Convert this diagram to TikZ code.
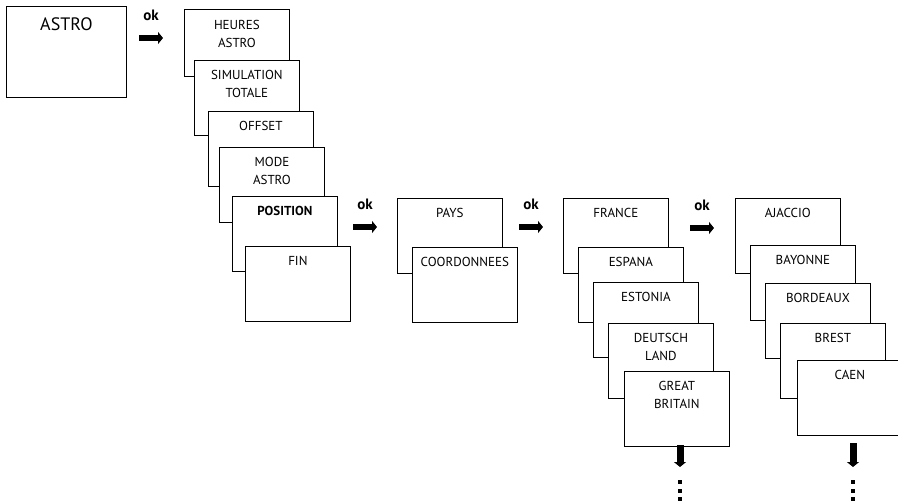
\documentclass[tikz,border=0pt]{standalone}
\usepackage{fontspec}
\setmainfont{PT Sans}
\usepackage{tikz}
\usetikzlibrary{positioning}
\usetikzlibrary{arrows.meta}
\tikzstyle{menu} = [draw, fill=white, line width=0.8pt, anchor=north west, inner sep=0pt, minimum width=105pt, minimum height=75pt]
\tikzstyle{menutext} = [inner sep=0pt, align=center, font=\fontsize{13}{18}\selectfont]
\tikzstyle{okarrow} = [draw, line width=6pt, -{Triangle[length=5pt,width=12pt]}]
\tikzstyle{oklabel} = [inner sep=0pt, font=\fontsize{15}{18}\selectfont\bfseries]

\begin{document}
\begin{tikzpicture}[x=1pt, y=-1pt]

			\useasboundingbox (0,0) rectangle (898,503);

			\node[draw, line width=0.8pt, anchor=north west, minimum width=120pt, minimum height=91pt] (astro) at (6,6) {};
			\node[inner sep=0pt, font=\fontsize{18}{20}\selectfont, below=11pt of astro.north] (astrotext) {ASTRO};

			\coordinate (oka) at (139,38); \coordinate (okb) at (163,38);
			\path[okarrow] (oka) -- (okb) node[oklabel, midway, above=14pt] {ok};

			\node[menu, minimum height=67pt] (heures) at (184,9) {};
			\node[menutext, below=11pt of heures.north] {HEURES\\ASTRO};
			\node[menu] (simul) at (194,60) {};
			\node[menutext, below=10pt of simul.north] {SIMULATION\\TOTALE};
			\node[menu] (offset) at (208,111) {};
			\node[menutext, below=10pt of offset.north] {OFFSET};
			\node[menu] (mode) at (219,147) {};
			\node[menutext, below=10pt of mode.north] {MODE\\ASTRO};
			\node[menu] (position) at (232,196) {};
			\node[menutext, below=10pt of position.north] {\bfseries POSITION};
			\node[menu] (fin) at (245,246) {};
			\node[menutext, below=10pt of fin.north] {FIN};

			\coordinate (okc) at (353,227); \coordinate (okd) at (377,227);
			\path[okarrow] (okc) -- (okd) node[oklabel, midway, above=14pt] {ok};

			\node[menu] (pays) at (397,198) {};
			\node[menutext, below=10pt of pays.north] {PAYS};
			\node[menu] (coord) at (412,247) {};
			\node[menutext, below=10pt of coord.north] {COORDONNEES};

			\coordinate (oke) at (519,227); \coordinate (okf) at (543,227);
			\path[okarrow] (oke) -- (okf) node[oklabel, midway, above=14pt] {ok};

			\node[menu] (france) at (563,198) {};
			\node[menutext, below=10pt of france.north] {FRANCE};
			\node[menu] (espana) at (578,247) {};
			\node[menutext, below=10pt of espana.north] {ESPANA};
			\node[menu] (estonia) at (593,282) {};
			\node[menutext, below=10pt of estonia.north] {ESTONIA};
			\node[menu] (deutsch) at (608,323) {};
			\node[menutext, below=10pt of deutsch.north] {DEUTSCH\\LAND};
			\node[menu] (great) at (624,371) {};
			\node[menutext, below=10pt of great.north] {GREAT\\BRITAIN};

			\coordinate (okg) at (690,228); \coordinate (okh) at (714,228);
			\path[okarrow] (okg) -- (okh) node[oklabel, midway, above=14pt] {ok};

			\node[menu] (ajaccio) at (735,198) {};
			\node[menutext, below=10pt of ajaccio.north] {AJACCIO};
			\node[menu] (bayonne) at (750,245) {};
			\node[menutext, below=10pt of bayonne.north] {BAYONNE};
			\node[menu] (bordeaux) at (765,283) {};
			\node[menutext, below=10pt of bordeaux.north] {BORDEAUX};
			\node[menu] (brest) at (780,323) {};
			\node[menutext, below=10pt of brest.north] {BREST};
			\node[menu] (caen) at (797,360) {};
			\node[menutext, below=10pt of caen.north] {CAEN};

			\coordinate (downa) at (680,445); \coordinate (downb) at (680,467);
			\path[okarrow, line width=7pt] (downa) -- (downb);
			\coordinate (downc) at (853,443); \coordinate (downd) at (853,467);
			\path[okarrow, line width=7pt] (downc) -- (downd);

			\foreach \d in {482,490.5,499} {
				\fill (678,\d-2) rectangle +(4,4);
				\fill (851,\d-2) rectangle +(4,4);
			}

\end{tikzpicture}
\end{document}
